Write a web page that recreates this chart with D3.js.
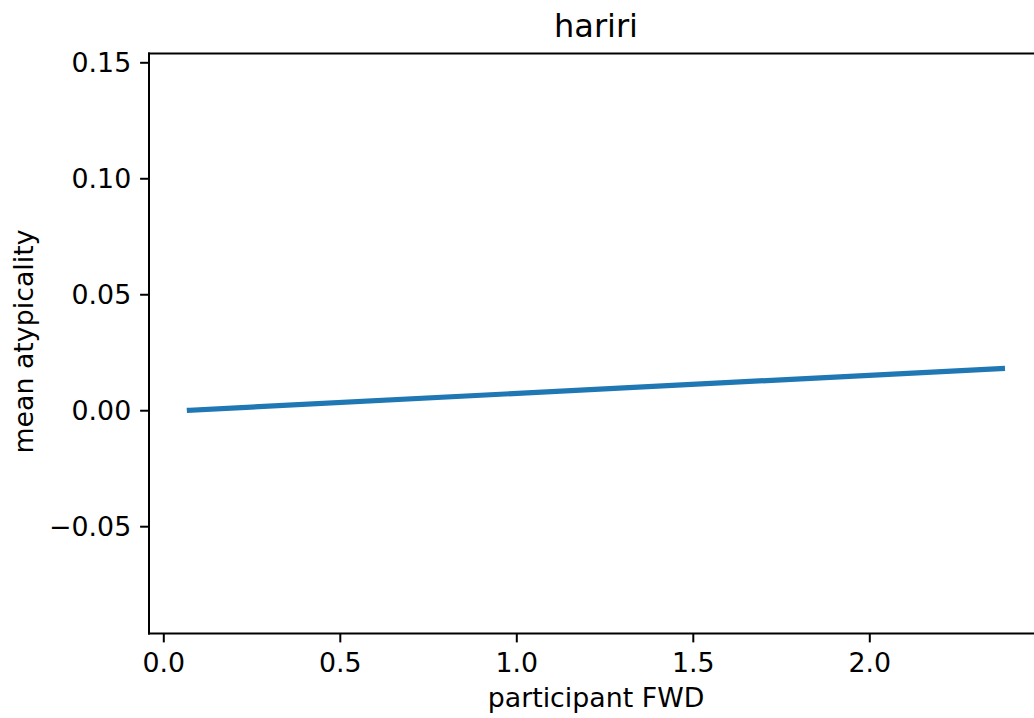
<!DOCTYPE html>
<html>
<head>
<meta charset="utf-8">
<script src="https://cdn.jsdelivr.net/npm/d3@7"></script>
<style>
  html, body { margin: 0; padding: 0; background: #fff; }
  text { font-family: "DejaVu Sans", sans-serif; fill: #000; }
</style>
</head>
<body>
<svg id="chart" width="1034" height="718"></svg>
<script>
const title = "hariri";
const xLabel = "participant FWD";
const yLabel = "mean atypicality";
const xTicks = [0.0, 0.5, 1.0, 1.5, 2.0];
const yTicks = [-0.05, 0.00, 0.05, 0.10, 0.15];
const lineX = [0.074, 2.377];
const lineY = [0.0, 0.018];

const svg = d3.select("#chart");
const W = 1034, H = 718;
const axLeft = 149, axRight = 1043, axTop = 53.5, axBottom = 633.5;
const FS = 26.8, TFS = 32;

// scales (calibrated from tick positions)
const x = d3.scaleLinear().domain([0, 2]).range([163.3, 869.3]);
const y = d3.scaleLinear().domain([-0.05, 0.15]).range([526.2, 62.3]);

svg.append("rect").attr("width", W).attr("height", H).attr("fill", "#fff");

svg.append("defs").append("clipPath").attr("id", "clip")
  .append("rect").attr("x", axLeft).attr("y", axTop).attr("width", axRight - axLeft).attr("height", axBottom - axTop);

// line
const data = lineX.map((d, i) => ({ x: d, y: lineY[i] }));
svg.append("path")
  .datum(data)
  .attr("clip-path", "url(#clip)")
  .attr("fill", "none")
  .attr("stroke", "#1f77b4")
  .attr("stroke-width", 5.2)
  .attr("stroke-linecap", "square")
  .attr("d", d3.line().x(d => x(d.x)).y(d => y(d.y)));

// axes with d3
const fmtX = d3.format(".1f");
const fmtY = v => d3.format(".2f")(v).replace("-", "\u2212");

const xAxis = svg.append("g")
  .attr("transform", `translate(0,${axBottom})`)
  .call(d3.axisBottom(x).tickValues(xTicks).tickFormat(fmtX).tickSize(8.9).tickPadding(8.9));
const yAxis = svg.append("g")
  .attr("transform", `translate(${axLeft},0)`)
  .call(d3.axisLeft(y).tickValues(yTicks).tickFormat(fmtY).tickSize(8.9).tickPadding(8.9));

[xAxis, yAxis].forEach(g => {
  g.select(".domain").remove();
  g.selectAll(".tick line").attr("stroke", "#000").attr("stroke-width", 2);
  g.selectAll(".tick text").attr("font-size", FS + "px").attr("fill", "#000")
    .style("font-family", "'DejaVu Sans', sans-serif");
});
xAxis.selectAll(".tick text").attr("dy", null)
  .attr("dominant-baseline", "hanging").attr("y", 8.9 + 8.9 + 1);
yAxis.selectAll(".tick text").attr("dy", "0.36em");

// spines
const sp = svg.append("g").attr("stroke", "#000").attr("stroke-width", 2).attr("fill", "none");
sp.append("line").attr("x1", axLeft).attr("x2", axLeft).attr("y1", axTop - 1).attr("y2", axBottom + 1);
sp.append("line").attr("x1", axLeft - 1).attr("x2", axRight).attr("y1", axTop).attr("y2", axTop);
sp.append("line").attr("x1", axLeft - 1).attr("x2", axRight).attr("y1", axBottom).attr("y2", axBottom);
sp.append("line").attr("x1", axRight).attr("x2", axRight).attr("y1", axTop).attr("y2", axBottom);

// title and labels
svg.append("text").attr("x", (axLeft + axRight) / 2).attr("y", 36.7)
  .attr("text-anchor", "middle").attr("font-size", TFS + "px").text(title);
svg.append("text").attr("x", (axLeft + axRight) / 2).attr("y", 707)
  .attr("text-anchor", "middle").attr("font-size", FS + "px").text(xLabel);
svg.append("text")
  .attr("transform", `translate(33,${(axTop + axBottom) / 2 - 2}) rotate(-90)`)
  .attr("text-anchor", "middle").attr("font-size", FS + "px").text(yLabel);
</script>
</body>
</html>
